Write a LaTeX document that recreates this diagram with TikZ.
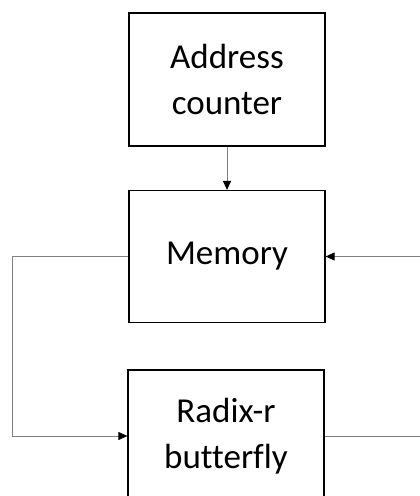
\documentclass[tikz,border=0pt]{standalone}
\usepackage{fontspec}
\setmainfont[Ligatures=NoCommon]{Carlito}
\usepackage{tikz}
\usetikzlibrary{arrows.meta,positioning}

\begin{document}
\begin{tikzpicture}[x=1pt,y=-1pt,
  block/.style={draw,line width=1.2pt,minimum width=196pt,minimum height=132pt,
    align=center,font=\fontsize{35}{46}\selectfont},
  link/.style={draw=gray,line width=0.9pt,-{Triangle[length=9pt,width=8pt,color=black]}}]
  \useasboundingbox (0,0) rectangle (420,496);
  \clip (0,0) rectangle (420,496);
  \node[block,minimum height=133pt] (addr) at (227,79.5) {Address\\counter};
  \node[block] (mem) at (227,256.5) {Memory};
  \node[block] (bfly) at (226,436) {Radix-r\\butterfly};
  \coordinate (lft) at (12,0);
  \coordinate (rgt) at (424,0);
  \draw[link] (addr) -- (mem);
  \draw[link] (mem.west) -- (mem.west -| lft) |- (bfly.west);
  \draw[link] (bfly.east) -- (bfly.east -| rgt) |- (mem.east);
\end{tikzpicture}
\end{document}
